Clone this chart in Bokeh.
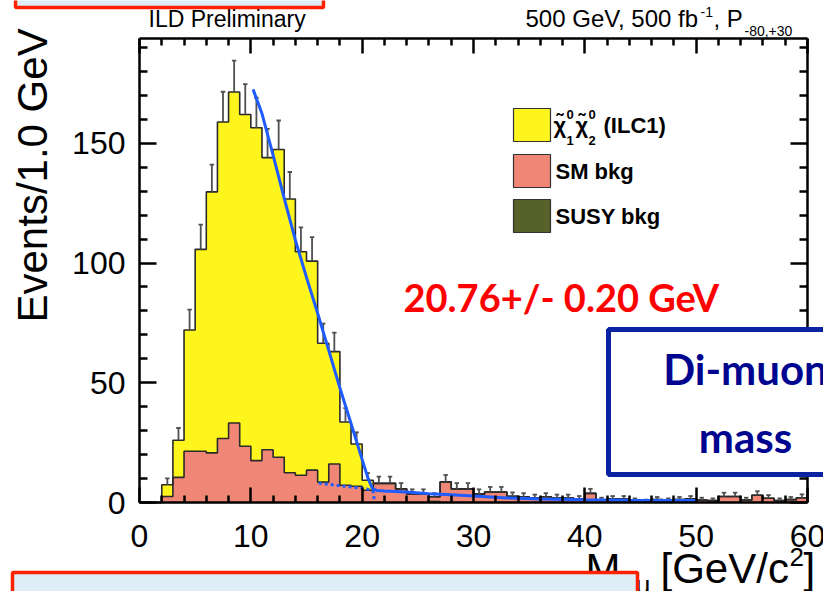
from math import pi, sin, cos
from bokeh.plotting import figure
from bokeh.models import Label, BoxAnnotation, LinearAxis, FixedTicker
from bokeh.core.properties import value
from bokeh.embed import file_html
from bokeh.resources import INLINE

# ---------------- data ----------------
bin_low = list(range(0, 60))          # 1 GeV bins, 0..60 GeV
# total stacked height (signal + SM bkg + SUSY bkg)
total = [0, 0, 7.4, 26, 72, 105.7, 129.7, 158.9, 171.4, 162,
         156.5, 144, 147.4, 126.7, 104.7, 100.8, 66.5, 63, 33.6, 24.4,
         9.3, 8, 8, 5.7, 3.6, 3.6, 2.4, 8.6, 5.7, 5.7,
         3.6, 4.4, 4.4, 2.6, 2.4, 1.9, 2.4, 1.9, 1.9, 1.5,
         3.8, 1.0, 1.5, 1.5, 0.8, 0.5, 1.2, 0.8, 1.2, 1.5,
         1.0, 0.8, 2.5, 2.5, 1.0, 3.0, 1.8, 0.8, 1.2, 2.0]
sm_bkg = [0, 0, 2.5, 10.5, 21.4, 21.4, 20.7, 26.7, 33.2, 23.5,
          17.5, 22, 18.9, 12.4, 11.4, 13.5, 8.5, 16.1, 7.2, 6.8,
          5.1, 8, 8, 5.7, 3.6, 3.6, 1.6, 8.6, 5.7, 5.7,
          3.6, 4.4, 4.4, 2.6, 2.4, 1.9, 2.4, 1.9, 1.9, 1.5,
          3.8, 1.0, 1.5, 1.5, 0.8, 0.5, 1.2, 0.8, 1.2, 1.5,
          1.0, 0.8, 2.5, 2.5, 1.0, 3.0, 1.8, 0.8, 1.2, 2.0]
susy_bkg = [0] * 26 + [0.8] + [0] * 33
err_up = [0, 0, 2.7, 5.1, 8.5, 10.3, 11.4, 12.6, 13.1, 12.7,
          12.5, 12.0, 12.1, 11.3, 10.2, 10.0, 8.2, 7.9, 5.8, 4.9,
          3.0, 2.8, 2.8, 2.4, 1.9, 1.9, 1.5, 2.9, 2.4, 2.4,
          1.9, 2.1, 2.1, 1.6, 1.5, 1.4, 1.5, 1.4, 1.4, 1.2,
          1.9, 1.0, 1.2, 1.2, 0.9, 0.7, 1.1, 0.9, 1.1, 1.2,
          1.0, 0.9, 1.6, 1.6, 1.0, 1.7, 1.3, 0.9, 1.1, 1.4]
fit_x = [10.2, 11, 12, 13, 14, 15, 16, 17, 18, 19, 20, 20.5, 20.9, 21.3,
         22, 24, 26, 28, 30, 33, 36, 40, 44, 48, 50]
fit_y = [172.5, 162.4, 145, 127, 109.6, 94, 79, 63.5, 47.8, 33, 17.9, 10.5, 6.0, 5.0,
         4.8, 4.4, 3.7, 3.2, 2.7, 1.9, 1.5, 1.1, 0.9, 0.8, 0.8]
bkgfit_x = [16.1, 18.2, 20.4, 21.0, 21.1]
bkgfit_y = [8.1, 6.9, 5.7, 4.5, 0.1]

legend_labels = ["(ILC1)", "SM bkg", "SUSY bkg"]
x_tick_values = [0, 10, 20, 30, 40, 50, 60]
x_tick_labels = ["0", "10", "20", "30", "40", "50", "60"]
y_tick_values = [0, 50, 100, 150]
y_tick_labels = ["0", "50", "100", "150"]
x_minor_ticks = [v for v in range(0, 61, 2) if v % 10]
y_minor_ticks = [v for v in range(0, 191, 10) if v % 50]

YELLOW = "#fef51c"
PINK = "#f08776"
OLIVE = "#566229"
FITBLUE = "#1f5cff"
LINE = "#2a2a2a"

# ---------------- layout: frame = whole canvas, axes placed in data space ----
W, H = 823, 591
FL, FR, FT, FB = 139, 807, 38, 502       # histogram frame, canvas pixels
X_MAX = 60.0
PX_PER_EVT = 2.395
Y_MAX = (FB - FT) / PX_PER_EVT
BASE_SHIFT = 0.37                         # renderer baseline offset, fraction of font size


def X(px):
    return (px - FL) / (FR - FL) * X_MAX


def Y(py):
    return (FB - py) / PX_PER_EVT


p = figure(width=W, height=H, x_range=(X(0), X(W)), y_range=(Y(H), Y(0)),
           output_backend="svg", toolbar_location=None,
           x_axis_location=None, y_axis_location=None,
           min_border=0)
p.grid.visible = False
p.outline_line_color = None
p.background_fill_color = "white"
p.border_fill_color = "white"


def add_axis(side, ticks, minor, loc, bounds, tin, minin):
    ax = LinearAxis(ticker=FixedTicker(ticks=ticks, minor_ticks=minor),
                    fixed_location=loc, bounds=bounds)
    ax.axis_line_width = 2.5
    ax.axis_line_color = "black"
    ax.major_tick_in = tin
    ax.major_tick_out = 0
    ax.minor_tick_in = minin
    ax.minor_tick_out = 0
    ax.major_tick_line_width = 2.5
    ax.minor_tick_line_width = 2.5
    ax.major_tick_line_color = "black"
    ax.minor_tick_line_color = "black"
    ax.major_label_text_font_size = "0px"
    ax.major_label_text_alpha = 0
    ax.major_label_standoff = 0
    p.add_layout(ax, side)


add_axis("below", x_tick_values, x_minor_ticks, 0, (0, X_MAX), 15, 7)
add_axis("above", x_tick_values, x_minor_ticks, Y_MAX, (0, X_MAX), 15, 7)
add_axis("left", y_tick_values, y_minor_ticks, 0, (0, Y_MAX), 17, 8)
add_axis("right", y_tick_values, y_minor_ticks, X_MAX, (0, Y_MAX), 17, 8)

# tick labels at the tick values
TICK_FS = 32
p.text(x=x_tick_values, y=[Y(547 - BASE_SHIFT * TICK_FS)] * len(x_tick_values),
       text=x_tick_labels,
       text_font=value("Liberation Sans"), text_font_size=value(f"{TICK_FS}px"),
       text_align="center", text_baseline="alphabetic", text_color="black")
p.text(x=[X(125)] * len(y_tick_values),
       y=[v - (12 - BASE_SHIFT * TICK_FS) / PX_PER_EVT for v in y_tick_values],
       text=y_tick_labels,
       text_font=value("Liberation Sans"), text_font_size=value(f"{TICK_FS}px"),
       text_align="right", text_baseline="alphabetic", text_color="black")

bin_high = [b + 1 for b in bin_low]
centers = [b + 0.5 for b in bin_low]
pink_top = [s + u for s, u in zip(sm_bkg, susy_bkg)]
edges = bin_low + [bin_high[-1]]

# histograms (filled steps, then outlines)
p.varea_step(x=edges, y1=[0] * len(edges), y2=total + [total[-1]], step_mode="after",
             fill_color=YELLOW)
p.varea_step(x=edges, y1=[0] * len(edges), y2=pink_top + [pink_top[-1]], step_mode="after",
             fill_color=PINK)
p.varea_step(x=edges, y1=[0] * len(edges), y2=susy_bkg + [susy_bkg[-1]], step_mode="after",
             fill_color=OLIVE)
p.step(x=edges, y=total + [total[-1]], mode="after", line_color=LINE, line_width=1.6)
p.step(x=edges, y=pink_top + [pink_top[-1]], mode="after", line_color=LINE, line_width=1.6)

# error bars (upper half visible)
ex = [c for c, t in zip(centers, total) if t > 0]
ey0 = [t for t in total if t > 0]
ey1 = [t + e for t, e in zip(total, err_up) if t > 0]
p.segment(x0=ex, y0=ey0, x1=ex, y1=ey1, line_color="#505050", line_width=1.8)
p.segment(x0=[x - 0.2 for x in ex], y0=ey1, x1=[x + 0.2 for x in ex], y1=ey1,
          line_color="#505050", line_width=1.8)

# fits
p.line(fit_x, fit_y, line_color=FITBLUE, line_width=3)
p.line(bkgfit_x, bkgfit_y, line_color=FITBLUE, line_width=3, line_dash="3 3")


def lab(px, py, text, size, font="Liberation Sans", style="normal", color="black",
        align="left", angle=0.0):
    # (px, py): wanted alphabetic baseline point in canvas pixels
    d = BASE_SHIFT * size
    # move "up" in the text's own frame (rotation is counter-clockwise on screen)
    px2 = px - d * sin(angle)
    py2 = py - d * cos(angle)
    p.add_layout(Label(x=X(px2), y=Y(py2), text=text, text_font=font,
                       text_font_size=f"{size}px", text_font_style=style, text_color=color,
                       text_align=align, text_baseline="alphabetic", angle=angle))


def box(l, r, t, b, fill, line, lw):
    p.add_layout(BoxAnnotation(left=X(l), right=X(r), top=Y(t), bottom=Y(b),
                               fill_color=fill, fill_alpha=1,
                               line_color=line, line_alpha=1, line_width=lw))


# legend
for top_py, bot_py, col in [(108, 141, YELLOW), (154, 187, PINK), (199, 232, OLIVE)]:
    box(513, 550, top_py, bot_py, col, "#333333", 1.2)
lab(553, 133, "\u03c7\u0303", 22, style="bold")
lab(566, 119, "0", 13, style="bold")
lab(566, 145, "1", 13, style="bold")
lab(575, 133, "\u03c7\u0303", 22, style="bold")
lab(588, 119, "0", 13, style="bold")
lab(588, 145, "2", 13, style="bold")
lab(603, 133, legend_labels[0], 22, style="bold")
lab(555, 179, legend_labels[1], 22, style="bold")
lab(555, 224, legend_labels[2], 22, style="bold")

# header texts
lab(148, 27, "ILD Preliminary", 23)
lab(525, 27, "500 GeV, 500 fb", 24)
lab(700, 17, "-1", 14)
lab(713, 27, ", P", 24)
lab(744, 36, "-80,+30", 14)

# fit result
lab(403, 311, "20.76+/- 0.20 GeV", 38, font="Lato", style="bold", color="#ff0000")

# axis titles
lab(48, 322, "Events/1.0 GeV", 42, angle=pi / 2)
lab(585, 584, "M", 42)
lab(620, 594, "\u03bc\u03bc", 26)

# decorative slide boxes
box(15, 323, -20, 7, "#deedf6", "#ff2200", 3.5)
box(12, 637, 572, 620, "#deedf6", "#ff2200", 3.5)
box(608, 900, 329, 474, "white", "#0b22a3", 5)
lab(745, 384, "Di-muon", 42, font="Lato", style="bold", color="#000590", align="center")
lab(745, 452, "mass", 42, font="Lato", style="bold", color="#000590", align="center")

lab(660, 584, "[GeV/c", 42)
lab(789, 566, "2", 26)
lab(803, 584, "]", 42)

open("out.html", "w").write(file_html(p, INLINE))
